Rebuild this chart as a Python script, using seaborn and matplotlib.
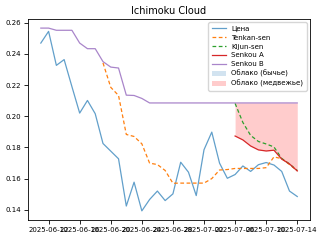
import numpy as np
import pandas as pd
import matplotlib
matplotlib.use("Agg")
import matplotlib.pyplot as plt
import matplotlib.dates as mdates
import seaborn as sns

dates = pd.date_range("2025-06-11", "2025-07-14", freq="D")

price = [0.2469, 0.2544, 0.2326, 0.2363, 0.2190, 0.2020, 0.2101, 0.2016, 0.1825, 0.1776,
         0.1727, 0.1424, 0.1577, 0.1393, 0.1466, 0.1520, 0.1459, 0.1502, 0.1705, 0.1641,
         0.1491, 0.1785, 0.1898, 0.1699, 0.1602, 0.1626, 0.1681, 0.1646, 0.1689, 0.1703,
         0.1687, 0.1646, 0.1520, 0.1485]

nan = np.nan
tenkan = [nan] * 8 + [0.2342, 0.2185, 0.2133, 0.1883, 0.1870, 0.1823, 0.1699, 0.1690,
                      0.1652, 0.1570, 0.1571, 0.1571, 0.1571, 0.1571, 0.1600, 0.1655,
                      0.1658, 0.1665, 0.1665, 0.1665, 0.1665, 0.1670, 0.1739, 0.1728,
                      0.1690, 0.1650]

kijun = [nan] * 25 + [0.2082, 0.1960, 0.1877, 0.1838, 0.1822, 0.1803, 0.1729, 0.1694, 0.1652]

senkou_a = [nan] * 25 + [0.1873, 0.1848, 0.1809, 0.1784, 0.1777, 0.1782, 0.1725, 0.1694, 0.1649]

senkou_b = [0.2565, 0.2565, 0.2551, 0.2551, 0.2551, 0.2469, 0.2433, 0.2433, 0.2350, 0.2315,
            0.2309, 0.2135, 0.2133, 0.2114, 0.2085, 0.2085, 0.2085, 0.2085, 0.2085, 0.2085,
            0.2085, 0.2085, 0.2085, 0.2085, 0.2085, 0.2085, 0.2085, 0.2085, 0.2085, 0.2085,
            0.2085, 0.2085, 0.2085, 0.2085]

labels = ["Цена", "Tenkan-sen", "Kijun-sen", "Senkou A", "Senkou B",
          "Облако (бычье)", "Облако (медвежье)"]

df = pd.DataFrame({"date": dates, "price": price, "tenkan": tenkan, "kijun": kijun,
                   "senkou_a": senkou_a, "senkou_b": senkou_b})

fig = plt.figure(figsize=(3.2, 2.4), dpi=100)
ax = fig.add_axes([0.0875, 0.0833, 0.8815, 0.8377])

lw = 0.9
sns.lineplot(data=df, x="date", y="price", ax=ax, color="tab:blue", alpha=0.7, lw=lw, label=labels[0])
sns.lineplot(data=df, x="date", y="tenkan", ax=ax, color="tab:orange", lw=lw, label=labels[1])
sns.lineplot(data=df, x="date", y="kijun", ax=ax, color="tab:green", lw=lw, label=labels[2])
sns.lineplot(data=df, x="date", y="senkou_a", ax=ax, color="tab:red", lw=lw, label=labels[3])
sns.lineplot(data=df, x="date", y="senkou_b", ax=ax, color="tab:purple", alpha=0.8, lw=lw, label=labels[4])
ax.lines[1].set_linestyle((0, (3, 2)))
ax.lines[2].set_linestyle((0, (3, 2)))

a = df["senkou_a"].to_numpy()
b = df["senkou_b"].to_numpy()
valid = ~np.isnan(a)
ax.fill_between(df["date"], a, b, where=valid & (a >= b), color="tab:blue", alpha=0.2,
                interpolate=True, label=labels[5], lw=0)
ax.fill_between(df["date"], a, b, where=valid & (a < b), color="red", alpha=0.2,
                interpolate=True, label=labels[6], lw=0)

ax.set_xlabel("")
ax.set_ylabel("")
ax.set_title("Ichimoku Cloud", fontsize=7.0, pad=3.5)
ax.xaxis.set_major_locator(mdates.DayLocator(interval=4))
ax.xaxis.set_major_formatter(mdates.DateFormatter("%Y-%m-%d"))
ax.set_yticks([0.14, 0.16, 0.18, 0.20, 0.22, 0.24, 0.26])
ax.tick_params(axis="both", labelsize=5.0, length=2.8, width=0.6, pad=2)
for s in ax.spines.values():
    s.set_linewidth(0.6)
ax.legend(loc="upper right", fontsize=5.0, handlelength=2.0, borderpad=0.5,
          labelspacing=0.4, frameon=True)

fig.savefig("out.png", dpi=100)
